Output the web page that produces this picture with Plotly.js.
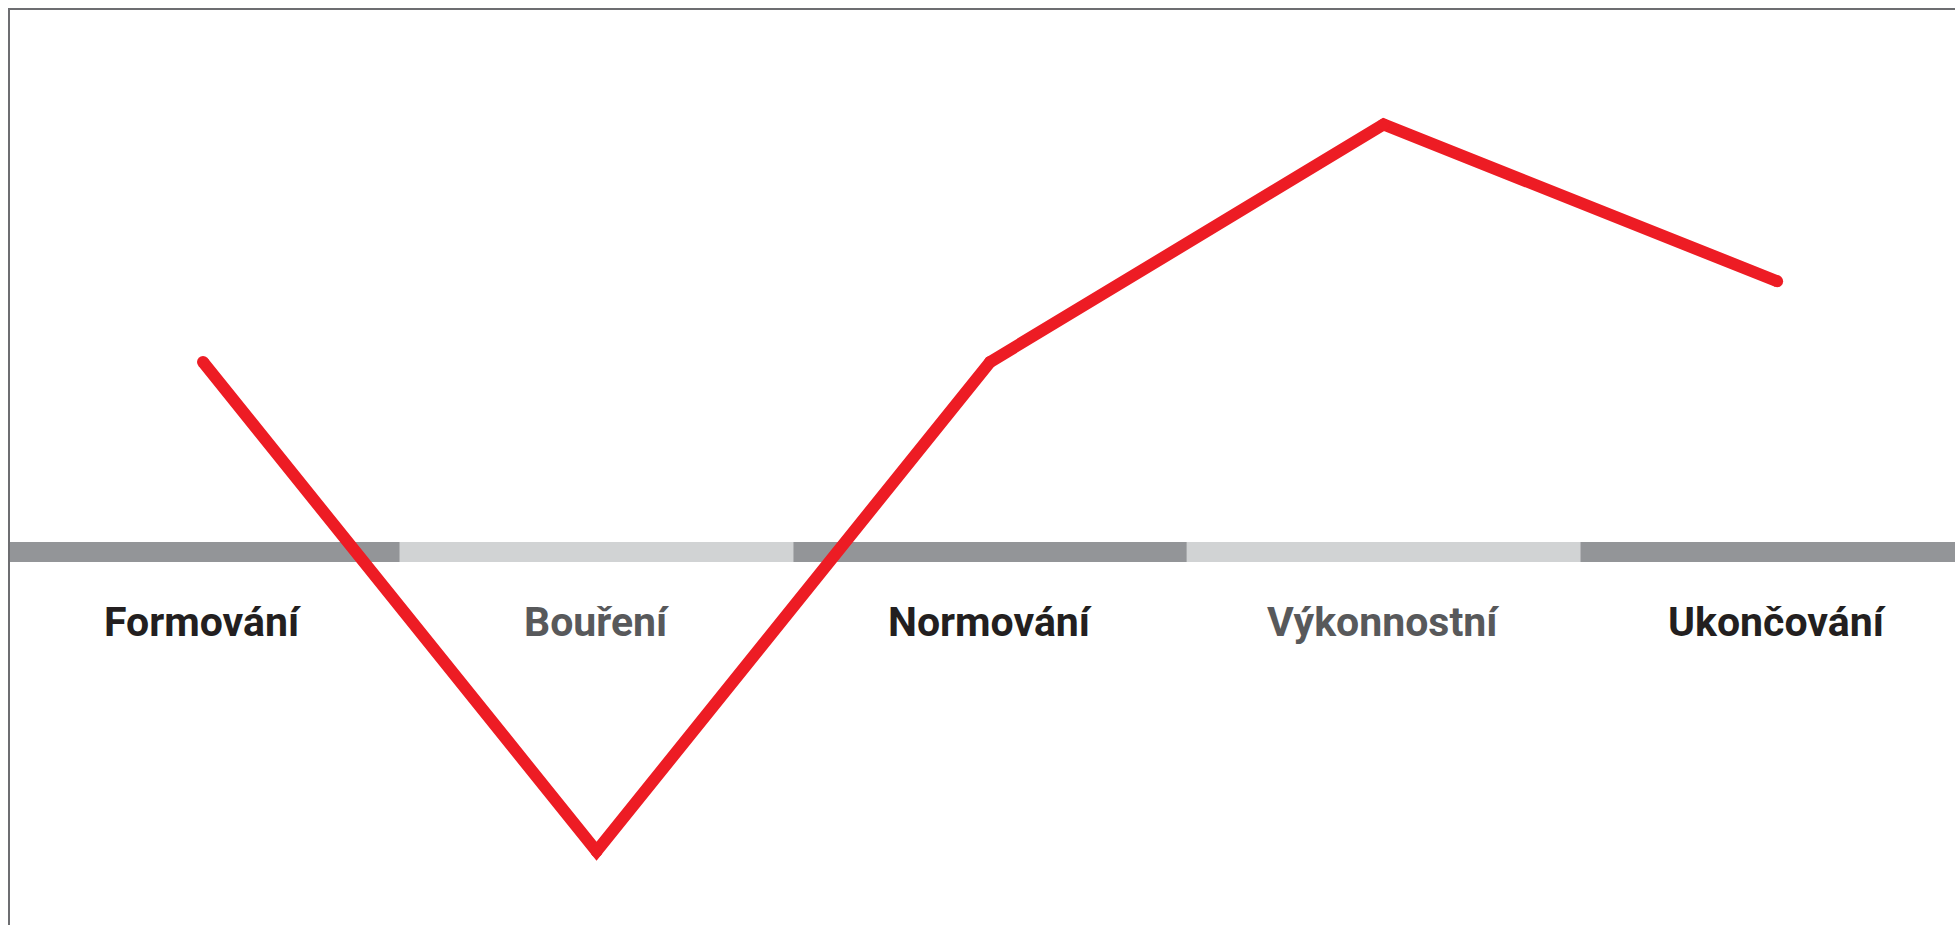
<!DOCTYPE html>
<html>
<head>
<meta charset="utf-8">
<script src="https://cdn.plot.ly/plotly-3.0.1.min.js"></script>
<style>
html,body{margin:0;padding:0;background:#fff;overflow:hidden;}
#chart{width:1955px;height:925px;}
</style>
</head>
<body>
<div id="chart"></div>
<script>
// Team development stages (Tuckman) and mood/performance curve
const stages = ["Formování", "Bouření", "Normování", "Výkonnostní", "Ukončování"];
const mood = [2.0, -3.15, 2.0, 4.5, 2.85];
const bandColors = ["#939598", "#d1d3d4", "#939598", "#d1d3d4", "#939598"];
const labelColors = ["#231f20", "#58595b", "#231f20", "#58595b", "#231f20"];

const bandHalf = 0.105;
const shapes = stages.map((s, i) => ({
  type: "rect", xref: "x", yref: "y",
  x0: i - 0.5, x1: i + 0.5, y0: -bandHalf, y1: bandHalf,
  fillcolor: bandColors[i], line: {width: 0}, layer: "below"
}));

const annotations = stages.map((s, i) => ({
  x: i, y: -0.74, xref: "x", yref: "y",
  text: "<b>" + s + "</b>", showarrow: false,
  xanchor: "center", yanchor: "middle",
  font: {family: "Roboto, Noto Sans, sans-serif", size: 41, color: labelColors[i]}
}));

const trace = {
  x: stages, y: mood, type: "scatter", mode: "lines+markers",
  line: {color: "#ed1c24", width: 12},
  marker: {color: "#ed1c24", size: 12},
  hoverinfo: "skip", cliponaxis: false
};

const layout = {
  width: 1955, height: 925,
  margin: {l: 10, r: 0, t: 10, b: 0},
  paper_bgcolor: "#ffffff", plot_bgcolor: "#ffffff",
  showlegend: false,
  xaxis: {type: "category", range: [-0.4905, 4.452], showgrid: false, zeroline: false,
          showticklabels: false, ticks: "", showline: true, side: "top",
          linecolor: "#6d6e71", linewidth: 2, fixedrange: true},
  yaxis: {range: [-3.926, 5.705], showgrid: false, zeroline: false,
          showticklabels: false, ticks: "", showline: true,
          linecolor: "#6d6e71", linewidth: 2, fixedrange: true},
  shapes: shapes,
  annotations: annotations
};

Plotly.newPlot("chart", [trace], layout, {displayModeBar: false, staticPlot: true});
</script>
</body>
</html>
